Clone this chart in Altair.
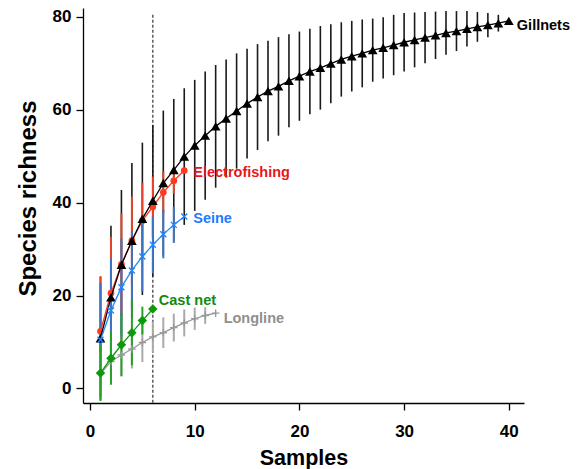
import altair as alt
import pandas as pd

# ---------------- data ----------------
gill_mean = [10.8, 19.6, 26.6, 31.8, 36.5, 40.4, 44.2, 47.0, 49.9, 52.3,
             54.4, 56.4, 58.1, 59.7, 61.3, 62.7, 64.0, 65.0, 66.2, 67.2,
             68.2, 69.0, 69.9, 70.8, 71.5, 72.1, 72.8, 73.3, 73.9, 74.5,
             75.0, 75.5, 76.0, 76.5, 76.9, 77.4, 77.8, 78.2, 78.6, 79.1]
gill_err = [13.3, 15.4, 16.1, 16.7, 16.4, 16.3, 15.6, 15.3, 14.7, 14.1,
            13.8, 13.2, 12.7, 12.4, 11.8, 11.4, 10.8, 10.6, 10.0, 9.6,
            9.2, 9.0, 8.5, 8.0, 7.6, 7.3, 6.8, 6.6, 6.5, 6.3,
            5.9, 5.5, 5.1, 4.7, 4.3, 3.8, 3.2, 2.6, 1.8, 0.0]

elec_mean = [12.3, 20.5, 26.7, 31.8, 36.1, 39.1, 42.2, 44.7, 46.9]
elec_err = [11.8, 12.1, 11.0, 9.5, 8.1, 6.5, 4.5, 2.8, 0.0]

seine_mean = [10.5, 16.8, 21.8, 25.4, 28.4, 30.9, 33.2, 35.2, 37.0]
seine_err = [12.2, 11.2, 10.5, 8.5, 7.5, 6.1, 5.2, 3.9, 0.0]

long_mean = [3.2, 5.8, 7.2, 8.5, 9.9, 11.1, 12.0, 13.1, 14.1, 15.0, 15.7, 16.2]
long_err = [4.5, 4.5, 4.5, 4.2, 4.2, 3.3, 3.3, 3.0, 2.9, 2.4, 1.8, 0.0]

cast_mean = [3.3, 6.5, 9.4, 12.0, 14.6, 17.1]
cast_err = [6.0, 5.7, 6.8, 7.0, 3.0, 0.0]

REF_SAMPLES = 6
REF_TOP = 80.4

X_TICKS = [0, 10, 20, 30, 40]
Y_TICKS = [0, 20, 40, 60, 80]
X_DOM = [-0.67, 41.45]
Y_DOM = [-3.13, 81.87]

FONT = "Liberation Sans"

X_SHAPE = "M-1,-1L1,1M-1,1L1,-1"
PLUS_SHAPE = "M-1,0L1,0M0,-1L0,1"

# name, means, errs, line colour, bar colour, text colour, shape, size, filled, dx, dy
STYLES = {
    "Gillnets": (gill_mean, gill_err, "#000000", "#1a1a1a", "#000000", "triangle-up", 95, True, 8, 5),
    "Electrofishing": (elec_mean, elec_err, "#ff3a21", "#e8432a", "#e8161b", "circle", 45, True, 9, 2),
    "Seine": (seine_mean, seine_err, "#1e88ff", "#3c73c4", "#1f7bff", X_SHAPE, 36, False, 9, 2),
    "Longline": (long_mean, long_err, "#999999", "#aaaaaa", "#8f8f8f", PLUS_SHAPE, 56, False, 8, 6),
    "Cast net": (cast_mean, cast_err, "#0c9a0c", "#26a026", "#108a10", "diamond", 90, True, 6, -8),
}
BAR_ORDER = ["Gillnets", "Electrofishing", "Seine", "Longline", "Cast net"]
MARK_ORDER = ["Electrofishing", "Gillnets", "Seine", "Longline", "Cast net"]


def frame(name, means, errs):
    n = len(means)
    return pd.DataFrame({
        "series": [name] * n,
        "samples": list(range(1, n + 1)),
        "mean": means,
        "lo": [m - e for m, e in zip(means, errs)],
        "hi": [m + e for m, e in zip(means, errs)],
    })


def xenc(field="samples:Q"):
    return alt.X(field, title="Samples",
                 scale=alt.Scale(domain=X_DOM, nice=False, zero=False),
                 axis=alt.Axis(values=X_TICKS, labelPadding=13, titleY=61,
                               titleBaseline="alphabetic", labelFlush=False,
                               titleFontSize=21.5))


def yenc(field="mean:Q"):
    return alt.Y(field, title="Species richness",
                 scale=alt.Scale(domain=Y_DOM, nice=False, zero=False),
                 axis=alt.Axis(values=Y_TICKS, labelPadding=5, titleX=-55,
                               titleY=190, titleBaseline="middle",
                               titleFontSize=24))


bars, lines, points, labels = [], [], [], []
for name in BAR_ORDER:
    means, errs, lc, bc, tc, shape, size, filled, dx, dy = STYLES[name]
    df = frame(name, means, errs)
    bw = 1.6 if name == "Gillnets" else 2
    bars.append(alt.Chart(df).mark_rule(color=bc, strokeWidth=bw).encode(
        x=xenc(), y=yenc("lo:Q"), y2="hi:Q"))

for name in MARK_ORDER:
    means, errs, lc, bc, tc, shape, size, filled, dx, dy = STYLES[name]
    df = frame(name, means, errs)
    base = alt.Chart(df)
    lines.append(base.mark_line(color=lc, strokeWidth=1.3).encode(
        x=xenc(), y=yenc()))
    if filled:
        pm = base.mark_point(shape=shape, size=size, filled=True, color=lc, opacity=1)
    else:
        pm = base.mark_point(shape=shape, size=size, filled=False, color=lc,
                             strokeWidth=1.4, opacity=1)
    points.append(pm.encode(x=xenc(), y=yenc()))
    last = df.tail(1)
    labels.append(alt.Chart(last).mark_text(
        align="left", baseline="middle", dx=dx, dy=dy, font=FONT,
        fontSize=14.5, fontWeight="bold", color=tc).encode(
        x=xenc(), y=yenc(), text="series:N"))

ref = alt.Chart(pd.DataFrame({"samples": [REF_SAMPLES], "top": [REF_TOP],
                              "bottom": [Y_DOM[0]]})).mark_rule(
    color="#333333", strokeWidth=1.2, strokeDash=[3, 2]).encode(
    x=xenc(), y=yenc("top:Q"), y2="bottom:Q")

layers = [ref] + bars
for ln, pt in zip(lines, points):
    layers += [ln, pt]
layers += labels

chart = alt.layer(*layers).properties(
    width=441, height=395,
    autosize=alt.AutoSizeParams(type="none"),
    padding={"left": 75, "top": 0, "right": 50, "bottom": 66},
).configure_view(stroke=None).configure_axis(
    grid=False, domainColor="#000000", domainWidth=1.3,
    tickColor="#000000", tickWidth=1.3, tickSize=7,
    labelFont=FONT, labelFontSize=17, labelFontWeight="bold", labelColor="#000000",
    titleFont=FONT, titleFontWeight="bold", titleColor="#000000",
)

chart.save("out.html", embed_options={"renderer": "svg", "actions": False})
